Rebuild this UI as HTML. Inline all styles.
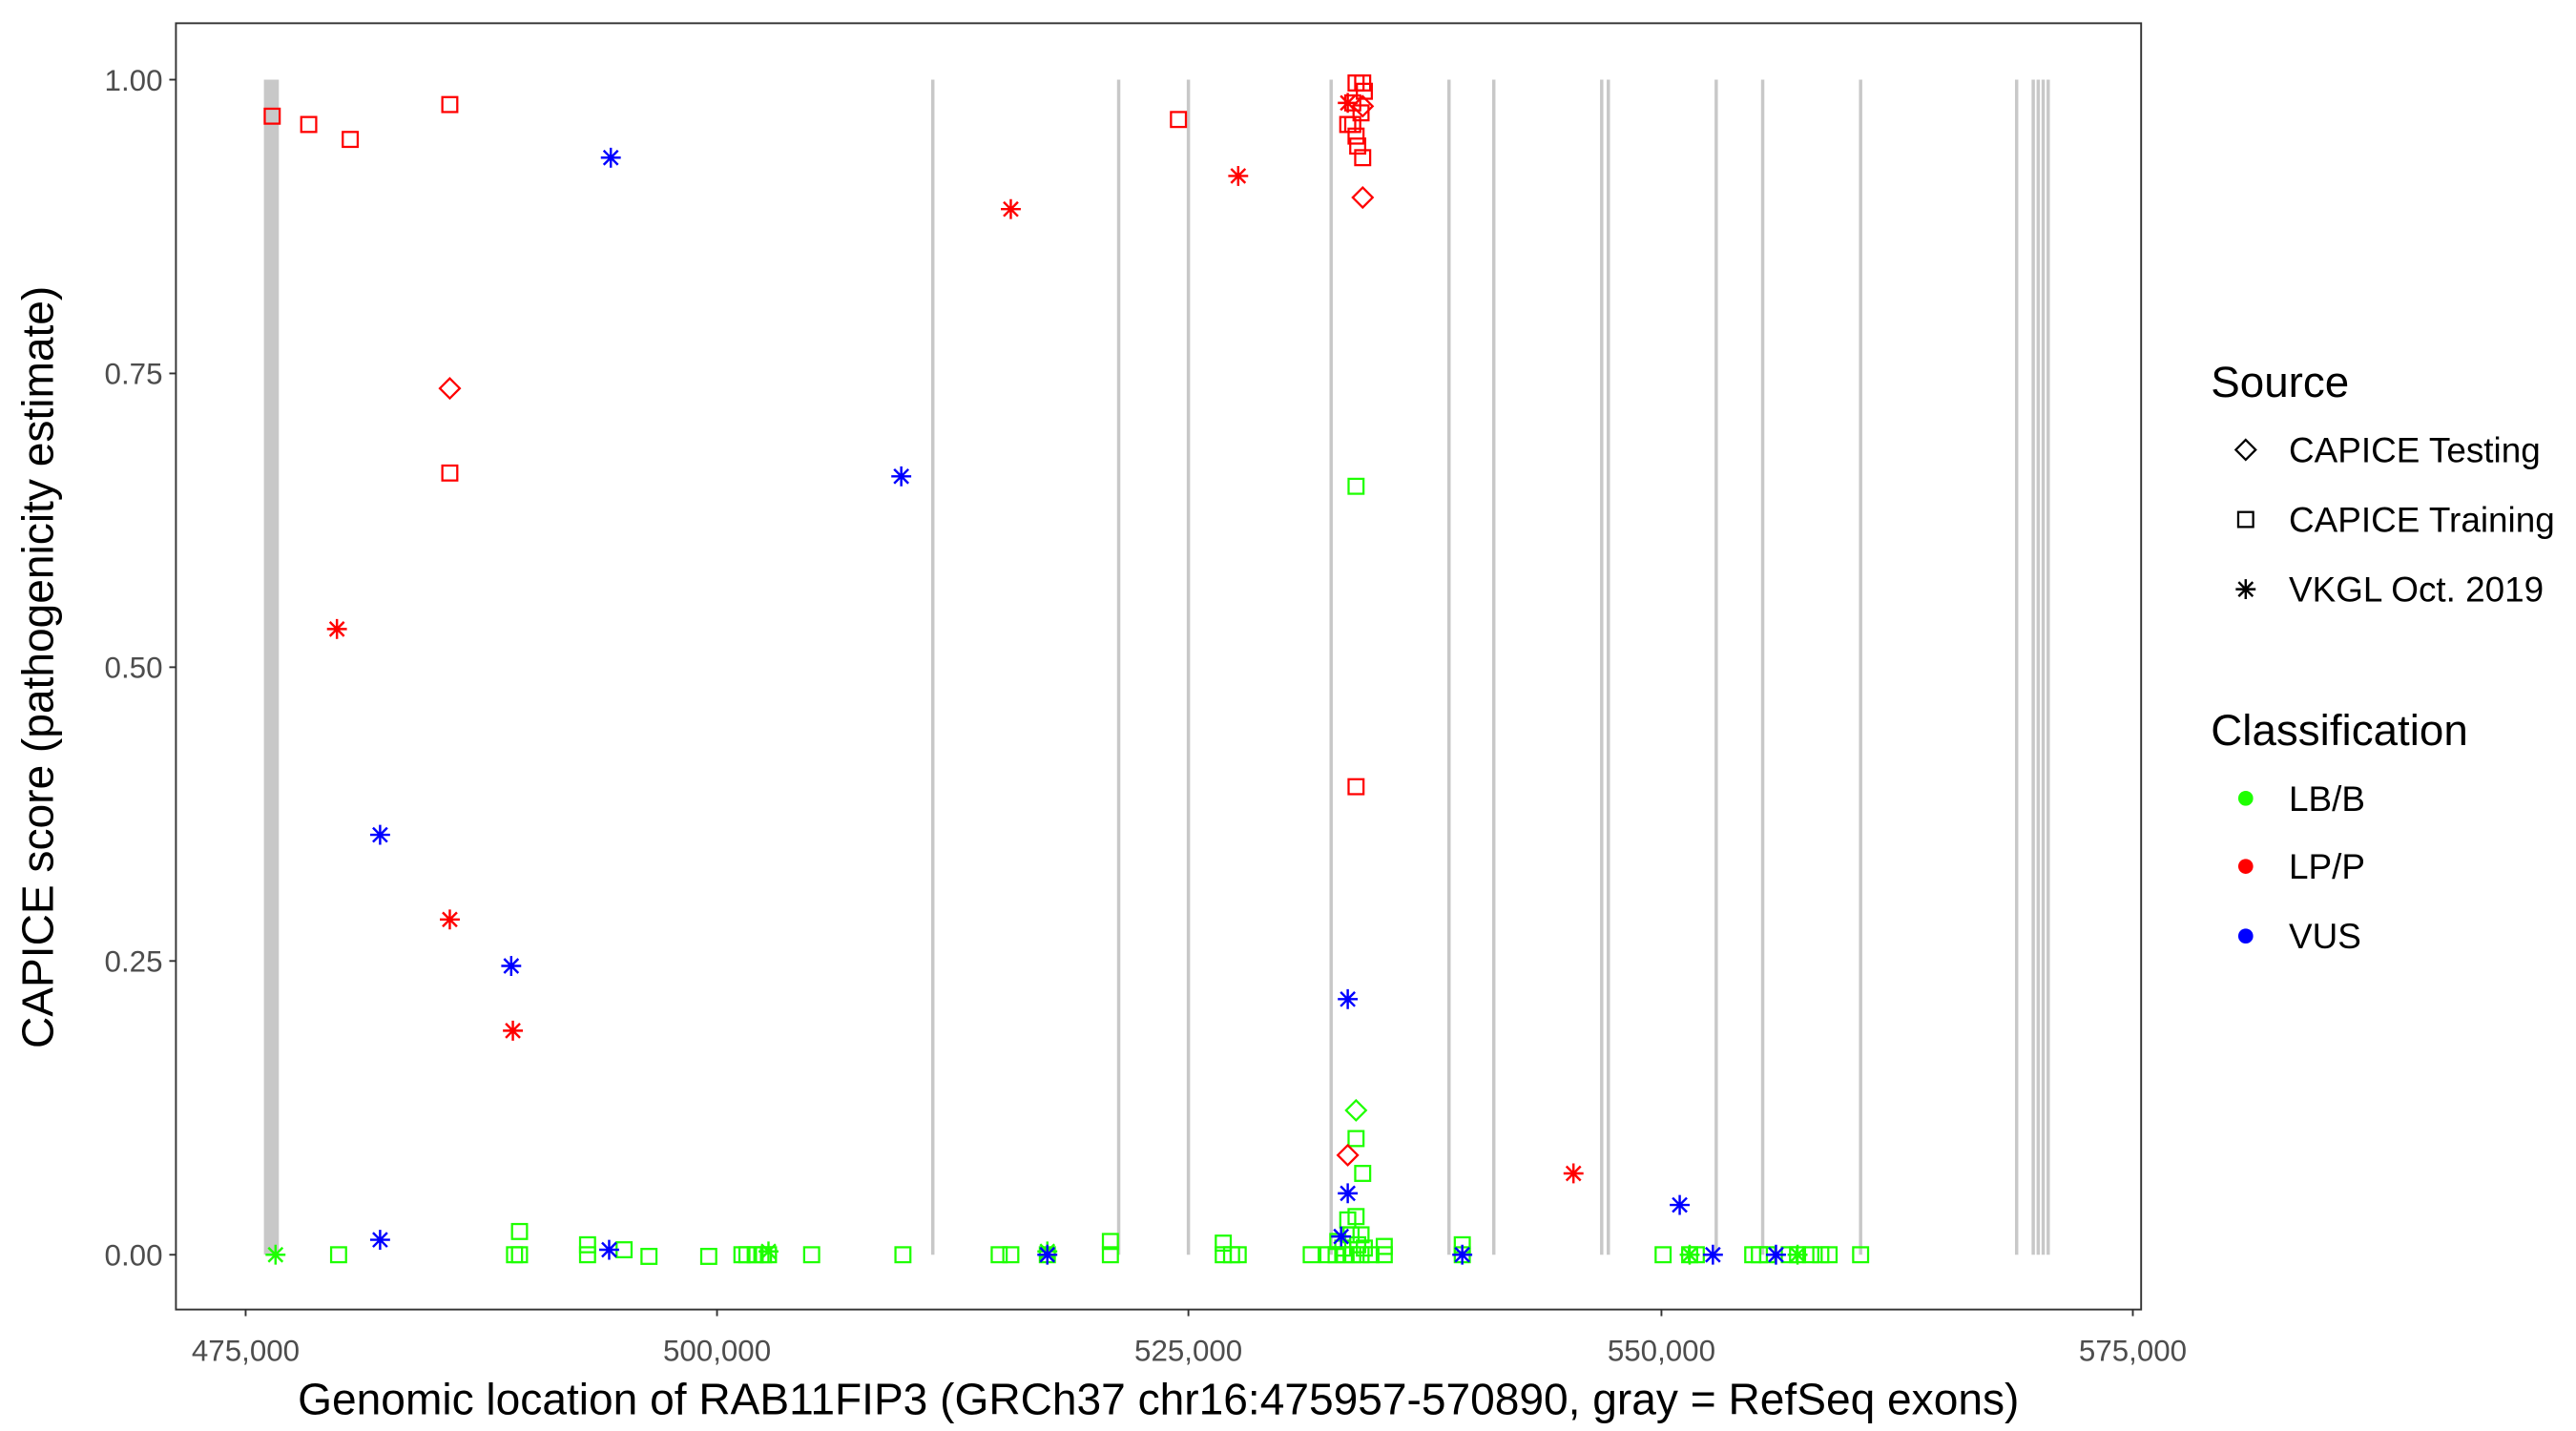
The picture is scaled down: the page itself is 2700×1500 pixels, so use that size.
<!DOCTYPE html>
<html><head><meta charset="utf-8"><style>
html,body{margin:0;padding:0;background:#fff;}
svg{display:block;}
text{font-family:"Liberation Sans",Arial,sans-serif;}
</style></head><body>
<svg width="2700" height="1500" viewBox="0 0 1552 862.2" preserveAspectRatio="none" xmlns="http://www.w3.org/2000/svg">
<defs>
<g id="sq"><rect x="-4.5" y="-4.5" width="9" height="9" fill="none" stroke-width="1.3"/></g>
<g id="di"><path d="M0,-6 L6,0 L0,6 L-6,0 Z" fill="none" stroke-width="1.3"/></g>
<g id="as" stroke-width="1.4"><path d="M-6,0 H6 M0,-6 V6 M-4.3,-4.3 L4.3,4.3 M-4.3,4.3 L4.3,-4.3"/></g>
</defs>
<rect width="1552" height="862.2" fill="#fff"/>
<rect x="159" y="48" width="9" height="708" fill="#c8c8c8"/>
<g stroke="#c8c8c8" stroke-width="2">
<line x1="562" y1="48" x2="562" y2="756"/><line x1="674" y1="48" x2="674" y2="756"/>
<line x1="716" y1="48" x2="716" y2="756"/><line x1="802" y1="48" x2="802" y2="756"/>
<line x1="873" y1="48" x2="873" y2="756"/><line x1="900" y1="48" x2="900" y2="756"/>
<line x1="965" y1="48" x2="965" y2="756"/><line x1="969" y1="48" x2="969" y2="756"/>
<line x1="1034" y1="48" x2="1034" y2="756"/><line x1="1062" y1="48" x2="1062" y2="756"/>
<line x1="1121" y1="48" x2="1121" y2="756"/><line x1="1215" y1="48" x2="1215" y2="756"/>
<line x1="1225" y1="48" x2="1225" y2="756"/><line x1="1228" y1="48" x2="1228" y2="756"/>
<line x1="1231" y1="48" x2="1231" y2="756"/><line x1="1234" y1="48" x2="1234" y2="756"/>
</g>
<g stroke="#1eff00">
<use href="#sq" x="204" y="756"/><use href="#sq" x="310" y="756"/><use href="#sq" x="313" y="756"/><use href="#sq" x="354" y="756"/><use href="#sq" x="376" y="753"/><use href="#sq" x="391" y="757"/><use href="#sq" x="427" y="757"/><use href="#sq" x="447" y="756"/><use href="#sq" x="450" y="756"/><use href="#sq" x="455" y="756"/><use href="#sq" x="460" y="756"/><use href="#sq" x="463" y="756"/><use href="#sq" x="489" y="756"/><use href="#sq" x="544" y="756"/><use href="#sq" x="602" y="756"/><use href="#sq" x="609" y="756"/><use href="#sq" x="631" y="756"/><use href="#sq" x="669" y="756"/><use href="#sq" x="737" y="756"/><use href="#sq" x="742" y="756"/><use href="#sq" x="746" y="756"/><use href="#sq" x="790" y="756"/><use href="#sq" x="800" y="756"/><use href="#sq" x="805" y="756"/><use href="#sq" x="810" y="756"/><use href="#sq" x="815" y="756"/><use href="#sq" x="820" y="756"/><use href="#sq" x="826" y="756"/><use href="#sq" x="834" y="756"/><use href="#sq" x="834" y="751"/><use href="#sq" x="881" y="756"/><use href="#sq" x="1002" y="756"/><use href="#sq" x="1018" y="756"/><use href="#sq" x="1022" y="756"/><use href="#sq" x="1056" y="756"/><use href="#sq" x="1060" y="756"/><use href="#sq" x="1065" y="756"/><use href="#sq" x="1078" y="756"/><use href="#sq" x="1083" y="756"/><use href="#sq" x="1091" y="756"/><use href="#sq" x="1097" y="756"/><use href="#sq" x="1102" y="756"/><use href="#sq" x="1121" y="756"/>
<use href="#sq" x="313" y="742"/><use href="#sq" x="669" y="748"/><use href="#sq" x="737" y="749"/><use href="#sq" x="817" y="293"/><use href="#sq" x="817" y="686"/><use href="#sq" x="821" y="707"/><use href="#sq" x="812" y="735"/><use href="#sq" x="817" y="733"/><use href="#sq" x="820" y="744"/><use href="#sq" x="881" y="750"/><use href="#sq" x="354" y="750"/><use href="#sq" x="806" y="748"/><use href="#sq" x="814" y="744"/><use href="#sq" x="818" y="750"/><use href="#sq" x="809" y="752"/><use href="#sq" x="822" y="752"/>
<use href="#di" x="817" y="669"/>
<use href="#as" x="166" y="756"/><use href="#as" x="1018" y="756"/><use href="#as" x="463" y="754"/><use href="#as" x="1083" y="756"/><use href="#as" x="631" y="754"/>
</g>
<g stroke="#ff0000">
<use href="#sq" x="164" y="70"/><use href="#sq" x="186" y="75"/><use href="#sq" x="211" y="84"/><use href="#sq" x="271" y="63"/><use href="#sq" x="271" y="285"/><use href="#sq" x="710" y="72"/><use href="#sq" x="817" y="474"/>
<use href="#sq" x="817" y="50"/><use href="#sq" x="821" y="50"/><use href="#sq" x="822" y="55"/><use href="#sq" x="812" y="75"/><use href="#sq" x="817" y="82"/><use href="#sq" x="820" y="68"/><use href="#sq" x="815" y="62"/><use href="#sq" x="821" y="95"/><use href="#sq" x="818" y="88"/><use href="#sq" x="815" y="75"/>
<use href="#di" x="271" y="234"/><use href="#di" x="821" y="119"/><use href="#di" x="812" y="696"/><use href="#di" x="821" y="64"/>
<use href="#as" x="203" y="379"/><use href="#as" x="271" y="554"/><use href="#as" x="309" y="621"/><use href="#as" x="609" y="126"/><use href="#as" x="746" y="106"/><use href="#as" x="948" y="707"/><use href="#as" x="812" y="62"/>
</g>
<g stroke="#0000ff">
<use href="#as" x="368" y="95"/><use href="#as" x="543" y="287"/><use href="#as" x="229" y="503"/><use href="#as" x="308" y="582"/><use href="#as" x="229" y="747"/><use href="#as" x="367" y="753"/><use href="#as" x="631" y="756"/><use href="#as" x="812" y="602"/><use href="#as" x="812" y="719"/><use href="#as" x="808" y="745"/><use href="#as" x="881" y="756"/><use href="#as" x="1012" y="726"/><use href="#as" x="1032" y="756"/><use href="#as" x="1070" y="756"/>
</g>
<rect x="106" y="14" width="1184" height="775" fill="none" stroke="#333" stroke-width="1.1"/>
<g stroke="#333" stroke-width="1.1">
<line x1="102" y1="48" x2="106" y2="48"/><line x1="102" y1="225" x2="106" y2="225"/><line x1="102" y1="402" x2="106" y2="402"/><line x1="102" y1="579" x2="106" y2="579"/><line x1="102" y1="756" x2="106" y2="756"/>
<line x1="148" y1="789" x2="148" y2="793"/><line x1="432" y1="789" x2="432" y2="793"/><line x1="716" y1="789" x2="716" y2="793"/><line x1="1001" y1="789" x2="1001" y2="793"/><line x1="1285" y1="789" x2="1285" y2="793"/>
</g>
<g font-size="18" fill="#4d4d4d" text-anchor="end">
<text x="98" y="54.5">1.00</text><text x="98" y="231.5">0.75</text><text x="98" y="408.5">0.50</text><text x="98" y="585.5">0.25</text><text x="98" y="762.5">0.00</text>
</g>
<g font-size="18" fill="#4d4d4d" text-anchor="middle">
<text x="148" y="820">475,000</text><text x="432" y="820">500,000</text><text x="716" y="820">525,000</text><text x="1001" y="820">550,000</text><text x="1285" y="820">575,000</text>
</g>
<text x="698" y="852" font-size="26.5" text-anchor="middle" fill="#000">Genomic location of RAB11FIP3 (GRCh37 chr16:475957-570890, gray = RefSeq exons)</text>
<text transform="translate(32,402) rotate(-90)" font-size="26.5" text-anchor="middle" fill="#000">CAPICE score (pathogenicity estimate)</text>
<text x="1332" y="239" font-size="26.3" fill="#000">Source</text>
<g stroke="#000"><use href="#di" x="1353" y="271"/><use href="#sq" x="1353" y="313"/><use href="#as" x="1353" y="355"/></g>
<g font-size="21.2" fill="#000"><text x="1379" y="278.5">CAPICE Testing</text><text x="1379" y="320.5">CAPICE Training</text><text x="1379" y="362.5">VKGL Oct. 2019</text></g>
<text x="1332" y="449" font-size="26.3" fill="#000">Classification</text>
<circle cx="1353" cy="481" r="4.5" fill="#1eff00"/><circle cx="1353" cy="522" r="4.5" fill="#ff0000"/><circle cx="1353" cy="564" r="4.5" fill="#0000ff"/>
<g font-size="21.2" fill="#000"><text x="1379" y="488.5">LB/B</text><text x="1379" y="529.5">LP/P</text><text x="1379" y="571.5">VUS</text></g>
</svg>
</body></html>
